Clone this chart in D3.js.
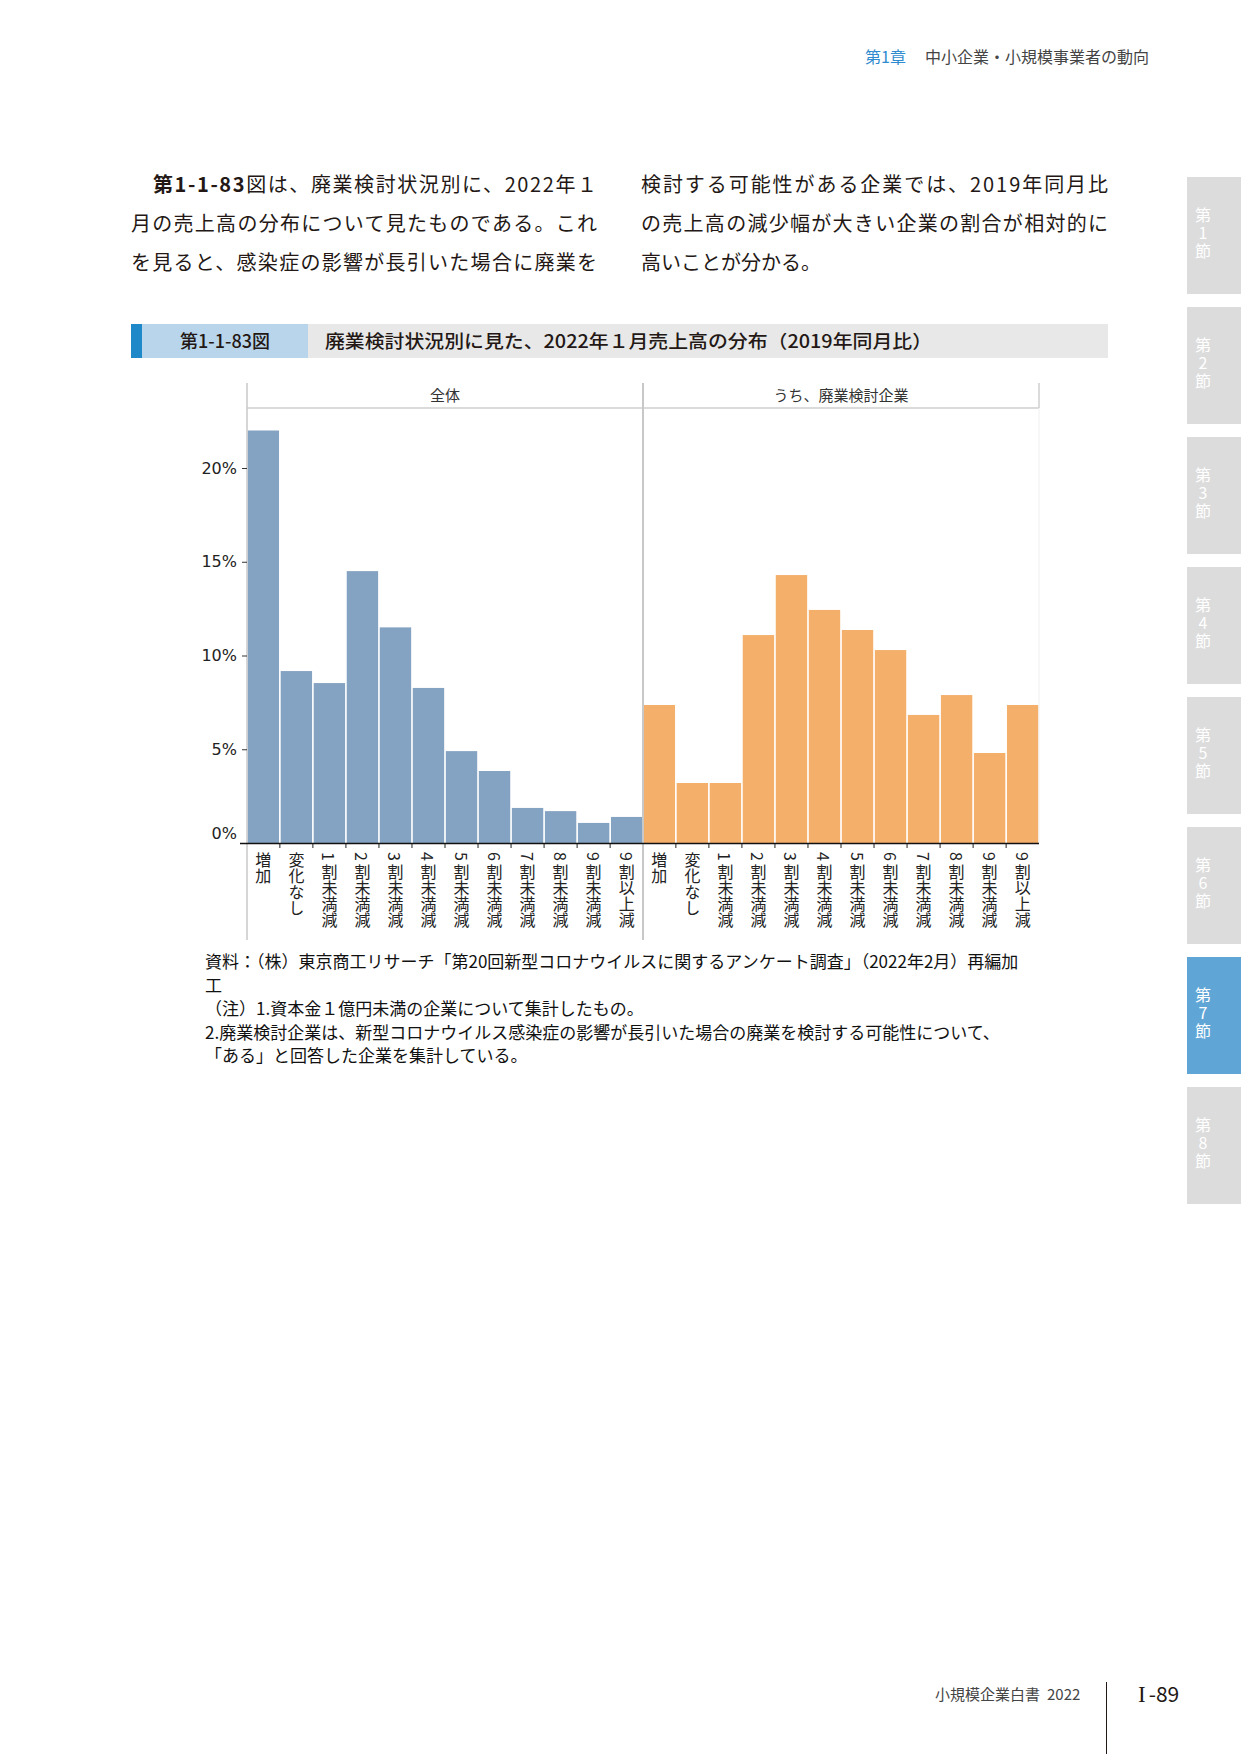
<!DOCTYPE html>
<html>
<head>
<meta charset="utf-8">
<script src="https://cdn.jsdelivr.net/npm/d3@7"></script>
<style>
  body { margin: 0; background: #fff; }
  svg text { font-family: "Noto Sans CJK JP", "Noto Sans", sans-serif; }
</style>
</head>
<body>
<div id="page"></div>
<script>

var categories = ["増加", "変化なし", "1割未満減", "2割未満減", "3割未満減", "4割未満減",
  "5割未満減", "6割未満減", "7割未満減", "8割未満減", "9割未満減", "9割以上減"]
var allValues = [22.0, 9.17, 8.53, 14.5, 11.5, 8.27, 4.9, 3.84, 1.87, 1.7, 1.07, 1.39]
var closingValues = [7.36, 3.2, 3.2, 11.09, 14.29, 12.43, 11.36, 10.29, 6.83, 7.89, 4.8, 7.36]
var panelNames = ["全体", "うち、廃業検討企業"]
var yTicks = [0, 5, 10, 15, 20]

var sectionTabs = ["1", "2", "3", "4", "5", "6", "7", "8"]
var activeTab = "7"

var panelColors = {
  "全体": "#84a2c1",
  "うち、廃業検討企業": "#f4af6b"
}

var layout = {
  pageW: 1241,
  pageH: 1754,
  plotLeft: 247,
  panelW: 396,
  headTop: 383,
  plotTop: 408,
  baseY: 843,
  frameBottom: 940,
  yMax: 23.2
}

var svg = d3.select("#page").append("svg")
  .attr("width", layout.pageW)
  .attr("height", layout.pageH)

/* page furniture: running head, body text, side tabs, folio */
var head = svg.append("text").attr("x", 865).attr("y", 63).style("font-size", "16px")
head.append("tspan").text("第1章").style("fill", "#2f8bd0")
head.append("tspan").attr("x", 925).text("中小企業・小規模事業者の動向").style("fill", "#444")

var bodyLines = [
  { x: 153, y: 192, w: 444, bold: "第1-1-83", rest: "図は、廃業検討状況別に、2022年１" },
  { x: 131, y: 231, w: 466, bold: "", rest: "月の売上高の分布について見たものである。これ" },
  { x: 131, y: 270, w: 466, bold: "", rest: "を見ると、感染症の影響が長引いた場合に廃業を" },
  { x: 641, y: 192, w: 467, bold: "", rest: "検討する可能性がある企業では、2019年同月比" },
  { x: 641, y: 231, w: 467, bold: "", rest: "の売上高の減少幅が大きい企業の割合が相対的に" },
  { x: 641, y: 270, w: 0, bold: "", rest: "高いことが分かる。" }
]
bodyLines.forEach(function(l) {
  var t = svg.append("text")
    .attr("x", l.x).attr("y", l.y)
    .style("font-size", "20px").style("fill", "#231815")
  if (l.w) t.attr("textLength", l.w).attr("lengthAdjust", "spacing")
  if (l.bold) t.append("tspan").text(l.bold).style("font-weight", "bold")
  t.append("tspan").text(l.rest)
})

// figure title bar
svg.append("rect").attr("x", 131).attr("y", 324).attr("width", 977).attr("height", 34).style("fill", "#e8e8e8")
svg.append("rect").attr("x", 142).attr("y", 324).attr("width", 166).attr("height", 34).style("fill", "#b9d5eb")
svg.append("rect").attr("x", 131).attr("y", 324).attr("width", 11).attr("height", 34).style("fill", "#1e88c8")
svg.append("text").text("第1-1-83図")
  .attr("x", 225).attr("y", 348).attr("text-anchor", "middle")
  .style("font-size", "18px").style("font-weight", "500").style("fill", "#231815")
svg.append("text").text("廃業検討状況別に見た、2022年１月売上高の分布（2019年同月比）")
  .attr("x", 325).attr("y", 348).attr("textLength", 607).attr("lengthAdjust", "spacingAndGlyphs")
  .style("font-size", "18px").style("font-weight", "500").style("fill", "#231815")

// side tabs, one vertical text per tab
var tabs = svg.selectAll(".tab").data(sectionTabs).enter()
  .append("g").attr("class", "tab")
  .attr("transform", function(d, i) { return "translate(1187," + (177 + i * 130) + ")" })
tabs.append("rect").attr("width", 54).attr("height", 117)
  .style("fill", function(d) { return d === activeTab ? "#5fa6d6" : "#dcdcdc" })
tabs.append("text").text(function(d) { return "第" + d + "節" })
  .attr("x", 16).attr("y", 30)
  .style("writing-mode", "vertical-rl")
  .style("text-orientation", "upright")
  .style("letter-spacing", "2px")
  .style("font-size", "16px").style("fill", "#fff")

var folio = svg.append("text").attr("x", 935).attr("y", 1700)
  .style("font-size", "15px").style("fill", "#444")
folio.append("tspan").text("小規模企業白書")
folio.append("tspan").attr("x", 1047).text("2022")
svg.append("line").attr("x1", 1106.5).attr("x2", 1106.5).attr("y1", 1682).attr("y2", 1754)
  .style("stroke", "#231815").style("stroke-width", 1)
var page = svg.append("text").attr("x", 1138).attr("y", 1702)
  .style("font-size", "21px").style("fill", "#231815")
page.append("tspan").text("I").style("font-family", "'Liberation Serif', serif").style("font-size", "23px")
page.append("tspan").text("-89").attr("dx", 3)

/* the chart: two facets sharing a y scale */
var y = d3.scaleLinear().domain([0, layout.yMax]).range([layout.baseY, layout.plotTop])

var panels = [
  { name: panelNames[0], values: allValues },
  { name: panelNames[1], values: closingValues }
]

var chart = svg.append("g").attr("class", "chart")

panels.forEach(function(p, pi) {
  var left = layout.plotLeft + pi * layout.panelW
  var x = d3.scaleBand().domain(categories)
    .range([left, left + layout.panelW])
    .paddingInner(0.05).paddingOuter(0.02)
  var rows = categories.map(function(c, i) { return { cat: c, value: p.values[i] } })

  chart.append("g").selectAll("rect").data(rows).enter()
    .append("rect")
    .attr("x", function(d) { return x(d.cat) })
    .attr("width", x.bandwidth())
    .attr("y", function(d) { return y(d.value) })
    .attr("height", function(d) { return layout.baseY - y(d.value) })
    .style("fill", panelColors[p.name])

  chart.append("text").text(p.name)
    .attr("x", left + layout.panelW / 2).attr("y", 401)
    .attr("text-anchor", "middle")
    .style("font-size", "15px").style("fill", "#333")

  // ticks sit on the band boundaries, not the centres
  var step = x.step()
  chart.append("g").selectAll("line").data(d3.range(1, categories.length)).enter()
    .append("line")
    .attr("x1", function(i) { return x(categories[i]) - step * x.paddingInner() / 2 })
    .attr("x2", function(i) { return x(categories[i]) - step * x.paddingInner() / 2 })
    .attr("y1", layout.baseY).attr("y2", layout.baseY + 5)
    .style("stroke", "#222").style("stroke-width", 1)

  // vertical labels; a leading digit is turned on its side like the original
  var labels = chart.append("g").selectAll("text").data(categories).enter()
    .append("text")
    .attr("x", function(d) { return x(d) + x.bandwidth() / 2 })
    .attr("y", 852)
    .style("writing-mode", "vertical-rl")
    .style("font-size", "16px").style("fill", "#222")
  labels.each(function(d) {
    var t = d3.select(this)
    if (/^[0-9]/.test(d)) {
      t.append("tspan").text(d.charAt(0)).style("text-orientation", "sideways")
      t.append("tspan").text(d.slice(1)).attr("dy", 3)
    } else {
      t.text(d)
    }
  })
})

// facet frame
var right = layout.plotLeft + 2 * layout.panelW
chart.append("line").attr("x1", layout.plotLeft).attr("x2", right)
  .attr("y1", layout.plotTop).attr("y2", layout.plotTop)
  .style("stroke", "#cfcfcf").style("stroke-width", 1.5)
chart.append("line").attr("x1", layout.plotLeft + layout.panelW).attr("x2", layout.plotLeft + layout.panelW)
  .attr("y1", layout.headTop).attr("y2", layout.frameBottom)
  .style("stroke", "#c8c8c8").style("stroke-width", 2)
chart.append("line").attr("x1", right).attr("x2", right)
  .attr("y1", layout.headTop).attr("y2", layout.plotTop)
  .style("stroke", "#cfcfcf").style("stroke-width", 1.5)
chart.append("line").attr("x1", right).attr("x2", right)
  .attr("y1", layout.plotTop).attr("y2", layout.baseY)
  .style("stroke", "#f0f0f0").style("stroke-width", 1)
chart.append("line").attr("x1", layout.plotLeft).attr("x2", layout.plotLeft)
  .attr("y1", layout.headTop).attr("y2", layout.frameBottom)
  .style("stroke", "#c8c8c8").style("stroke-width", 1.5)

var yAxis = chart.append("g")
  .attr("transform", "translate(" + layout.plotLeft + ",0)")
  .call(d3.axisLeft(y).tickValues(yTicks).tickSize(5).tickPadding(5)
    .tickFormat(function(d) { return d + "%" }))
yAxis.select(".domain").remove()
yAxis.selectAll(".tick line").style("stroke", "#333")
yAxis.selectAll(".tick text")
  .style("font-family", "'DejaVu Sans', sans-serif").style("font-size", "16px").style("fill", "#222")
  .attr("dy", function(d) { return d === 0 ? "-0.3em" : "0.32em" })

chart.append("line").attr("x1", 240).attr("x2", right)
  .attr("y1", layout.baseY + 0.5).attr("y2", layout.baseY + 0.5)
  .style("stroke", "#111").style("stroke-width", 1.5)

/* source and notes */
var notes = [
  "資料：（株）東京商工リサーチ「第20回新型コロナウイルスに関するアンケート調査」（2022年2月）再編加",
  "工",
  "（注）1.資本金１億円未満の企業について集計したもの。",
  "2.廃業検討企業は、新型コロナウイルス感染症の影響が長引いた場合の廃業を検討する可能性について、",
  "「ある」と回答した企業を集計している。"
]
svg.selectAll(".note").data(notes).enter()
  .append("text").attr("class", "note")
  .text(function(d) { return d })
  .attr("x", 205)
  .attr("y", function(d, i) { return 968 + i * 23.6 })
  .style("font-size", "17px").style("fill", "#111")

</script>
</body>
</html>
